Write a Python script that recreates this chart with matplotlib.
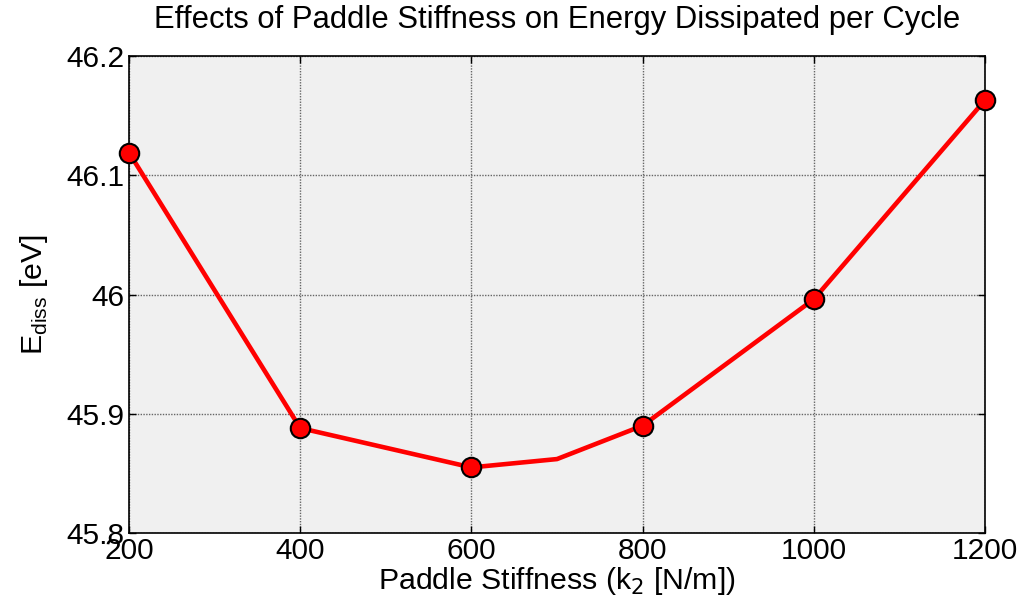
import matplotlib.pyplot as plt

plt.rcParams["font.family"] = ["Liberation Sans", "DejaVu Sans"]

# paddle stiffness sweep (N/m) and dissipated energy per cycle (eV)
stiffness = [200, 400, 600, 700, 800, 1000, 1200]
e_diss = [46.119, 45.888, 45.855, 45.862, 45.890, 45.996, 46.163]
# markers only at the sampled stiffness values
marked = [200, 400, 600, 800, 1000, 1200]

x_ticks = [200, 400, 600, 800, 1000, 1200]
y_ticks = [45.8, 45.9, 46.0, 46.1, 46.2]
y_tick_labels = ["45.8", "45.9", "46", "46.1", "46.2"]

fig = plt.figure(figsize=(10.23, 6.09), dpi=100)
ax = fig.add_axes([129 / 1023, 1 - 533 / 609, (985 - 129) / 1023, (533 - 56) / 609])
ax.set_facecolor("#f0f0f0")

mark_idx = [stiffness.index(k) for k in marked]
ax.plot(stiffness, e_diss, color="red", lw=3.3, marker="o", markevery=mark_idx,
        markersize=14, markerfacecolor="red", markeredgecolor="black",
        markeredgewidth=1.5, zorder=3, clip_on=False)

ax.set_xlim(200, 1200)
ax.set_ylim(45.8, 46.2)
ax.set_xticks(x_ticks)
ax.set_yticks(y_ticks)
ax.set_yticklabels(y_tick_labels)
ax.grid(True, color="#666666", linestyle=(0, (1, 1)), lw=1)
ax.tick_params(direction="in", length=5, width=1, top=True, right=True,
               labelsize=21.5, pad=3)
for s in ax.spines.values():
    s.set_linewidth(1.2)

ax.set_title("Effects of Paddle Stiffness on Energy Dissipated per Cycle",
             fontsize=22.3, pad=20)
ax.set_xlabel("Paddle Stiffness (k$_2$ [N/m])", fontsize=21.8, labelpad=0)
ax.set_ylabel("E$_{\\mathregular{diss}}$ [eV]", fontsize=21.8, labelpad=12)

fig.savefig("out.png", dpi=100)
